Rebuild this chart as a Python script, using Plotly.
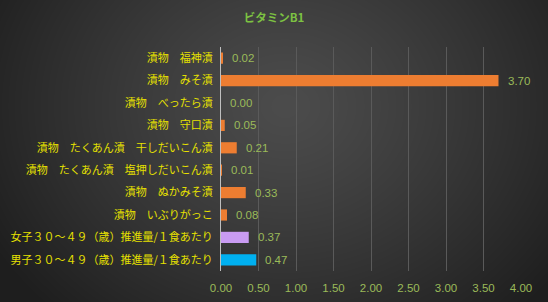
import plotly.graph_objects as go
import numpy as np
import zlib, struct, base64

categories = [
    "漬物　福神漬",
    "漬物　みそ漬",
    "漬物　べったら漬",
    "漬物　守口漬",
    "漬物　たくあん漬　干しだいこん漬",
    "漬物　たくあん漬　塩押しだいこん漬",
    "漬物　ぬかみそ漬",
    "漬物　いぶりがっこ",
    "女子３０～４９（歳）推進量/１食あたり",
    "男子３０～４９（歳）推進量/１食あたり",
]
values = [0.02, 3.70, 0.00, 0.05, 0.21, 0.01, 0.33, 0.08, 0.37, 0.47]
colors = ["#ED7D31"] * 8 + ["#C99BF2", "#00B0F0"]
tick_vals = [0, 0.5, 1, 1.5, 2, 2.5, 3, 3.5, 4]

W, H = 548, 302
ML, MR, MT, MB = 221, 27, 47, 31
PW, PH = W - ML - MR, H - MT - MB

# radial gradient background image
def make_png(w, h):
    yy, xx = np.mgrid[0:h, 0:w]
    cx, cy = w * 0.52, h * 0.35
    d = np.sqrt(((xx - cx) / (w * 0.62)) ** 2 + ((yy - cy) / (h * 0.95)) ** 2)
    d = np.clip(d, 0, 1)
    v = (76 - (76 - 30) * d ** 1.2).astype(np.uint8)
    raw = b"".join(b"\x00" + bytes(np.repeat(v[r], 3)) for r in range(h))
    def chunk(t, data):
        c = struct.pack(">I", len(data)) + t + data
        return c + struct.pack(">I", zlib.crc32(t + data) & 0xffffffff)
    png = b"\x89PNG\r\n\x1a\n" + chunk(b"IHDR", struct.pack(">IIBBBBB", w, h, 8, 2, 0, 0, 0))
    png += chunk(b"IDAT", zlib.compress(raw, 9)) + chunk(b"IEND", b"")
    return "data:image/png;base64," + base64.b64encode(png).decode()

img = make_png(W, H)

fig = go.Figure()
fig.add_trace(go.Bar(
    x=values, y=categories, orientation="h",
    marker=dict(color=colors, line=dict(width=0)),
    width=0.5,
))

annotations = [
    dict(x=v, y=c, xref="x", yref="y", text=f"{v:.2f}", showarrow=False,
         xanchor="left", xshift=7, yshift=0,
         font=dict(color="#9BBB59", size=11.5, family="Liberation Sans, Arial"))
    for c, v in zip(categories, values)
]

fig.update_layout(
    width=W, height=H,
    margin=dict(l=ML, r=MR, t=MT, b=MB, autoexpand=False),
    paper_bgcolor="#333333", plot_bgcolor="rgba(0,0,0,0)",
    showlegend=False,
    annotations=annotations,
    title=dict(text="<b>ビタミンB1</b>", x=0.5, xanchor="center", y=0.94, yanchor="middle",
               font=dict(color="#7DC242", size=11.5, family="Noto Sans CJK JP")),
    xaxis=dict(range=[0, 4], tickvals=tick_vals, ticktext=[f"{t:.2f}" for t in tick_vals],
               showgrid=True, gridcolor="#5A5A5A", gridwidth=1, zeroline=False,
               tickfont=dict(color="#9BBB59", size=11.5, family="Liberation Sans, Arial"),
               showline=False, ticks="", ticklabelstandoff=8, fixedrange=True),
    yaxis=dict(autorange="reversed", showline=True, linecolor="#BFBFBF", linewidth=1,
               tickfont=dict(color="#E6E000", size=11, family="Noto Sans CJK JP"),
               ticks="", ticklabelstandoff=5, showgrid=False, fixedrange=True),
    images=[dict(source=img, xref="paper", yref="paper",
                 x=-ML / PW, y=1 + MT / PH, sizex=W / PW, sizey=H / PH,
                 xanchor="left", yanchor="top", sizing="stretch", layer="below")],
)

fig.write_html("out.html")
